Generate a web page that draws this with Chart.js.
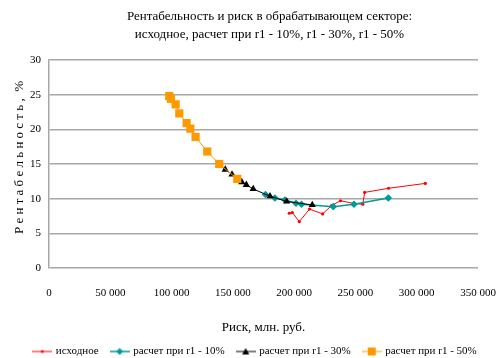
<!DOCTYPE html>
<html><head><meta charset="utf-8">
<script src="https://cdn.jsdelivr.net/npm/chart.js@4/dist/chart.umd.min.js"></script>
<style>html,body{margin:0;padding:0;background:#fff}#wrap{width:497px;height:358px}</style>
</head><body><div id="wrap"><canvas id="c" width="497" height="358"></canvas></div>
<script>
const titleLines = ['Рентабельность и риск в обрабатывающем секторе:', 'исходное, расчет при r1 - 10%, r1 - 30%, r1 - 50%'];
const xTitle = 'Риск, млн. руб.';
const yTitle = '    Р е н т а б е л ь н о с т ь ,  %';
const seriesNames = ['исходное', 'расчет при r1 - 10%', 'расчет при r1 - 30%', 'расчет при r1 - 50%'];
const xTicks = [0, 50000, 100000, 150000, 200000, 250000, 300000, 350000];
const xTickLabels = ['0', '50 000', '100 000', '150 000', '200 000', '250 000', '300 000', '350 000'];
const yTicks = [0, 5, 10, 15, 20, 25, 30];

const riskBase = [196000, 198500, 204200, 212600, 223200, 230500, 237800, 249000, 256000, 257500, 277000, 307000];
const profitBase = [7.9, 8.0, 6.7, 8.5, 7.8, 9.0, 9.7, 9.3, 9.2, 10.9, 11.5, 12.2];

const risk10 = [176600, 184300, 192500, 201500, 206000, 231900, 248800, 276800];
const profit10 = [10.6, 10.1, 9.8, 9.35, 9.2, 8.85, 9.2, 10.1];

const risk30 = [138900, 143800, 149300, 157300, 161000, 166600, 180300, 193900, 214800];
const profit30 = [15.0, 14.2, 13.5, 12.4, 12.0, 11.4, 10.35, 9.6, 9.1];

const risk50 = [98100, 99500, 103300, 106300, 112300, 115300, 119600, 129100, 138900, 153600];
const profit50 = [24.8, 24.4, 23.6, 22.3, 20.9, 20.1, 18.9, 16.8, 15.0, 12.85];

const colors = ['#ff0000', '#009a9a', '#000000', '#ff9900'];

function pts(xs, ys) { return xs.map((x, i) => ({x: x, y: ys[i]})); }

function makeIcon(color, shape, lw) {
  const c = document.createElement('canvas');
  c.width = 20; c.height = 10;
  const g = c.getContext('2d');
  g.strokeStyle = color; g.lineWidth = lw;
  g.beginPath(); g.moveTo(0, 5); g.lineTo(20, 5); g.stroke();
  g.fillStyle = color;
  g.beginPath();
  if (shape === 'dot') { g.arc(10, 5, 1.5, 0, Math.PI * 2); }
  else if (shape === 'diamond') { g.moveTo(10, 1.5); g.lineTo(13.5, 5); g.lineTo(10, 8.5); g.lineTo(6.5, 5); g.closePath(); }
  else if (shape === 'tri') { g.moveTo(10, 1.5); g.lineTo(13.5, 8); g.lineTo(6.5, 8); g.closePath(); }
  else if (shape === 'square') { g.rect(6, 1, 8, 8); }
  g.fill();
  return c;
}
const icons = [makeIcon(colors[0], 'dot', 1), makeIcon(colors[1], 'diamond', 1.5), makeIcon(colors[2], 'tri', 1), makeIcon(colors[3], 'square', 1)];

const serif = 'Liberation Serif, Times New Roman, serif';

const shiftBlocks = {
  id: 'shiftBlocks',
  afterLayout(chart) {
    const t = chart.titleBlock;
    if (t) { t.left += 21; t.right += 21; }
    const l = chart.legend;
    if (l) { l.left += 7; l.right += 7; }
  }
};

new Chart(document.getElementById('c'), {
  type: 'scatter',
  data: {
    datasets: [
      {label: seriesNames[0], data: pts(riskBase, profitBase), showLine: true, borderColor: colors[0], backgroundColor: colors[0], borderWidth: 1, pointStyle: 'circle', pointRadius: 1.6, pointBorderWidth: 0, order: 3},
      {label: seriesNames[1], data: pts(risk10, profit10), showLine: true, borderColor: colors[1], backgroundColor: colors[1], borderWidth: 1.5, pointStyle: 'rectRot', pointRadius: 3.8, pointBorderWidth: 0, order: 2},
      {label: seriesNames[2], data: pts(risk30, profit30), showLine: true, borderColor: colors[2], backgroundColor: colors[2], borderWidth: 1, pointStyle: 'triangle', pointRadius: 4.2, pointBorderWidth: 0, order: 1},
      {label: seriesNames[3], data: pts(risk50, profit50), showLine: true, borderColor: colors[3], backgroundColor: colors[3], borderWidth: 1, pointStyle: 'rect', pointRadius: 5.8, pointBorderWidth: 0, order: 0}
    ]
  },
  plugins: [shiftBlocks],
  options: {
    responsive: false,
    animation: false,
    devicePixelRatio: 1,
    layout: {padding: {left: 0, right: 0, top: 0, bottom: -9}},
    plugins: {
      title: {
        display: true,
        text: titleLines,
        color: '#000',
        font: {family: serif, size: 13, weight: 'normal', lineHeight: 1.385},
        padding: {top: 8, bottom: 16}
      },
      legend: {
        position: 'bottom',
        labels: {
          color: '#000',
          font: {family: serif, size: 11},
          usePointStyle: true,
          pointStyleWidth: 16,
          padding: 13,
          generateLabels: function (chart) {
            return chart.data.datasets.map((ds, i) => ({
              text: ds.label, fillStyle: colors[i], strokeStyle: colors[i], lineWidth: 0,
              pointStyle: icons[i], datasetIndex: i, fontColor: '#000'
            }));
          }
        }
      },
      tooltip: {enabled: false}
    },
    scales: {
      x: {
        type: 'linear', min: 0, max: 350000,
        afterBuildTicks: function (s) { s.ticks = xTicks.map(v => ({value: v})); },
        afterFit: function (s) { s.height = 65; s.paddingRight = 19; s.paddingLeft = 0; },
        ticks: {
          color: '#000', font: {family: serif, size: 11}, padding: 19, maxRotation: 0,
          callback: function (v) { const i = xTicks.indexOf(v); return i >= 0 ? xTickLabels[i] : ''; }
        },
        grid: {display: false, drawTicks: false},
        border: {display: false},
        title: {display: true, text: xTitle, color: '#000', font: {family: serif, size: 13, lineHeight: 1.2}, padding: {top: 0, bottom: -2}}
      },
      y: {
        type: 'linear', min: 0, max: 30,
        afterBuildTicks: function (s) { s.ticks = yTicks.map(v => ({value: v})); },
        afterFit: function (s) { s.width = 49; },
        ticks: {color: '#000', font: {family: serif, size: 11}, padding: 8},
        grid: {color: '#a8a8a8', lineWidth: 1.5, drawTicks: false},
        border: {display: true, color: '#a8a8a8', width: 1.5},
        title: {display: true, text: yTitle, color: '#000', font: {family: serif, size: 13, lineHeight: 1.2}, padding: {top: 12, bottom: 0}}
      }
    }
  }
});
</script>
</body></html>
